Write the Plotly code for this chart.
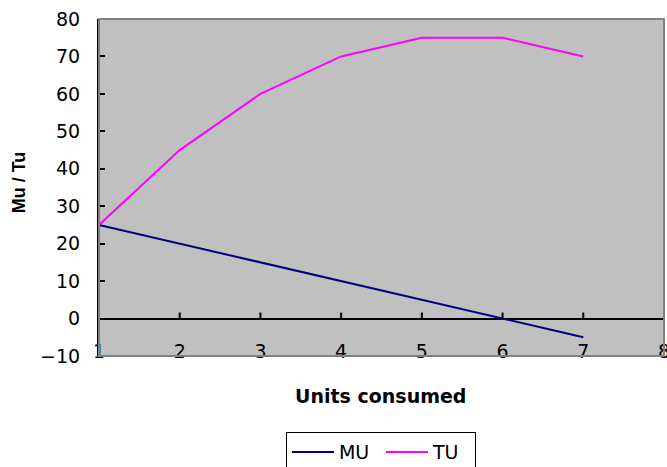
import plotly.graph_objects as go

# Units consumed and the utility values at each level
units = [1, 2, 3, 4, 5, 6, 7]
mu = [25, 20, 15, 10, 5, 0, -5]
tu = [25, 45, 60, 70, 75, 75, 70]

x_ticks = [1, 2, 3, 4, 5, 6, 7, 8]
y_ticks = [-10, 0, 10, 20, 30, 40, 50, 60, 70, 80]

FONT = "DejaVu Sans, Liberation Sans, Arial, sans-serif"
FONT_V = "Liberation Sans, Arial, sans-serif"
X_RANGE = [1, 8]
Y_RANGE = [-10, 80]

W, H = 667, 467
M_L, M_R, M_T, M_B = 99, 3, 19, 111
plot_h = H - M_T - M_B
# upward tick length on the y=0 axis line, 6 px expressed in y units
tick_len = 6 * (Y_RANGE[1] - Y_RANGE[0]) / plot_h

fig = go.Figure()
fig.add_trace(go.Scatter(x=units, y=mu, name="MU", mode="lines",
                         line=dict(color="#000080", width=2)))
fig.add_trace(go.Scatter(x=units, y=tu, name="TU", mode="lines",
                         line=dict(color="#FF00FF", width=2)))
# tick marks standing on the y=0 axis line
fig.add_trace(go.Scatter(
    x=x_ticks, y=[0] * len(x_ticks), mode="markers",
    marker=dict(size=1, color="rgba(0,0,0,0)"),
    error_y=dict(type="data", symmetric=False,
                 array=[tick_len] * len(x_ticks),
                 arrayminus=[0] * len(x_ticks),
                 width=0, thickness=2, color="black"),
    showlegend=False, hoverinfo="skip"))
# helper trace that binds the label axis along the bottom edge
fig.add_trace(go.Scatter(x=[None], y=[None], xaxis="x2", yaxis="y",
                         showlegend=False, hoverinfo="skip"))

border = dict(type="rect", xref="paper", yref="paper",
              x0=0, x1=1, y0=0, y1=1,
              line=dict(color="#808080", width=2))

fig.update_layout(
    width=W, height=H,
    margin=dict(l=M_L, r=M_R, t=M_T, b=M_B, autoexpand=False),
    paper_bgcolor="white",
    plot_bgcolor="#C0C0C0",
    font=dict(family=FONT, size=19, color="black"),
    showlegend=True,
    legend=dict(orientation="h", x=0.499, xanchor="center",
                y=-0.226, yanchor="top",
                bordercolor="black", borderwidth=1,
                font=dict(size=19), bgcolor="white",
                itemwidth=42, entrywidth=37,
                tracegroupgap=0),
    xaxis=dict(range=X_RANGE, showgrid=False, zeroline=False,
               showline=False, ticks="", showticklabels=False),
    # category labels along the bottom edge
    xaxis2=dict(range=X_RANGE, overlaying="x", anchor="free",
                position=0.053, side="bottom",
                tickvals=x_ticks, ticktext=[str(v) for v in x_ticks],
                ticks="", showgrid=False, zeroline=False, showline=False,
                ticklabeloverflow="allow",
                tickfont=dict(size=19)),
    yaxis=dict(range=Y_RANGE, tickvals=y_ticks,
               ticks="inside", ticklen=6, tickwidth=2, tickcolor="black",
               showline=True, linecolor="black", linewidth=2,
               zeroline=True, zerolinecolor="black", zerolinewidth=2,
               showgrid=False, ticklabelstandoff=13,
               tickfont=dict(size=19)),
    shapes=[border],
    annotations=[
        dict(text="<b>Units consumed</b>", xref="paper", yref="paper",
             x=0.499, y=-0.120, xanchor="center", yanchor="middle",
             showarrow=False, font=dict(size=19)),
        dict(text="<b>Mu / Tu</b>", xref="paper", yref="paper",
             x=-0.14, y=0.515, xanchor="center", yanchor="middle",
             textangle=-90, showarrow=False,
             font=dict(family=FONT_V, size=18)),
    ],
)

fig.write_html("out.html")
